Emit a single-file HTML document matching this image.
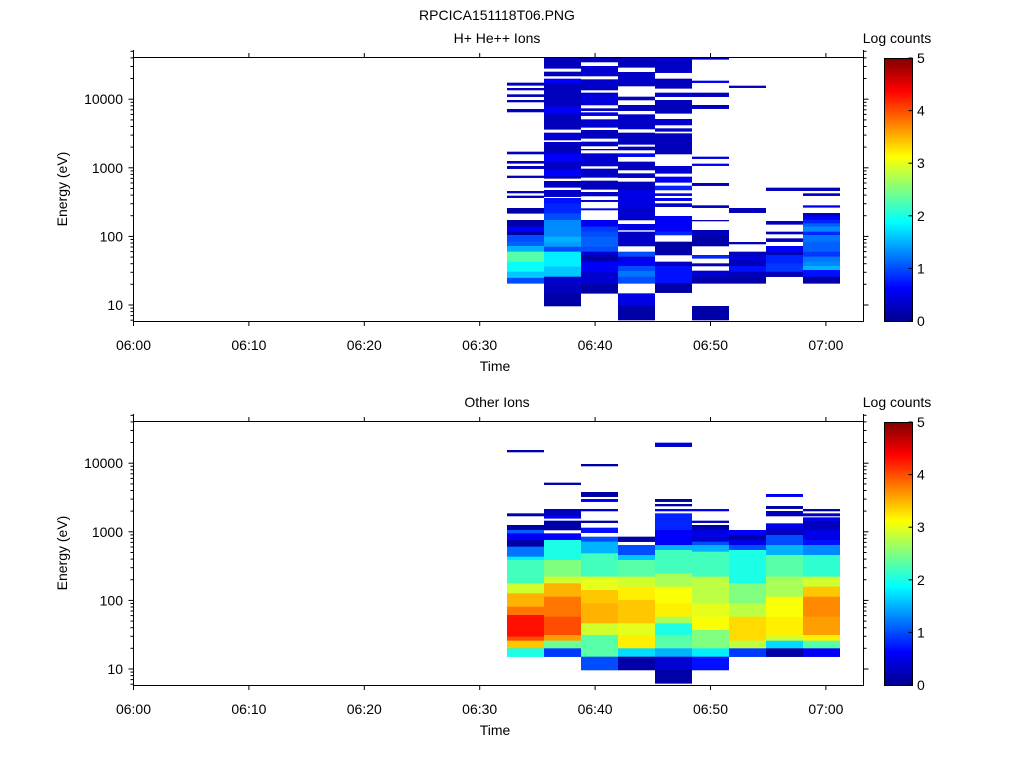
<!DOCTYPE html>
<html><head><meta charset="utf-8"><style>
body{margin:0;background:#fff;}
svg text{font-family:"Liberation Sans",sans-serif;font-size:14px;fill:#000;}
</style></head><body>
<svg id="s" width="1024" height="768" xmlns="http://www.w3.org/2000/svg">
<defs><linearGradient id="cb" x1="0" y1="1" x2="0" y2="0">
<stop offset="0" stop-color="#00008f"/><stop offset="0.125" stop-color="#0000ff"/><stop offset="0.375" stop-color="#00ffff"/><stop offset="0.625" stop-color="#ffff00"/><stop offset="0.875" stop-color="#ff0000"/><stop offset="1" stop-color="#800000"/></linearGradient></defs>
<g id="data"></g>
<text x="497" y="20" text-anchor="middle">RPCICA151118T06.PNG</text>
<text x="497" y="43" text-anchor="middle">H+ He++ Ions</text>
<text x="497" y="407" text-anchor="middle">Other Ions</text>
<text x="897" y="43" text-anchor="middle">Log counts</text>
<text x="897" y="407" text-anchor="middle">Log counts</text>
<g id="axes" stroke="#000" stroke-width="1" fill="none"></g>
<g id="lbl"></g>
</svg>
<script>
(function(){
function jet(v){var t=Math.max(0,Math.min(1,v/5));function c(x){return Math.round(255*Math.max(0,Math.min(1,x)));}
return 'rgb('+c(1.5-Math.abs(4*t-3))+','+c(1.5-Math.abs(4*t-2))+','+c(1.5-Math.abs(4*t-1))+')';}
var NS="http://www.w3.org/2000/svg";
function el(p,n,a,txt){var e=document.createElementNS(NS,n);for(var k in a)e.setAttribute(k,a[k]);if(txt!==undefined)e.textContent=txt;p.appendChild(e);return e;}
var D=document.getElementById('data'),A=document.getElementById('axes'),L=document.getElementById('lbl');
var colx=[507,544,581,618,655,692,729,766,803,840];
var topD=[
[[98,106,.3],[114,120,.3],[133,140,.3],[150,156,.3],[177,186,.3],[305,312,.3],[333,340,.3],[348,356,.3],[377,383,.3],[423,429,.3],[437,443,.3],[474,490,.2],[510,530,.2],[530,545,.6],[545,555,.2],[555,575,1],[575,588,1.1],[588,605,1.5],[605,635,2.3],[635,665,1.9],[665,680,1.6],[682,700,1]],
[[22,55,.3],[65,78,.3],[86,100,.6],[100,170,.3],[170,190,.6],[190,238,.3],[248,270,.4],[276,312,.3],[312,335,.6],[335,360,.35],[360,378,.6],[378,385,.3],[393,412,.3],[420,440,.35],[444,460,.7],[460,490,.8],[490,510,1],[510,560,1.3],[560,575,1.5],[575,590,1.4],[590,605,1],[605,650,1.8],[650,680,1.6],[680,700,.4],[700,730,.3],[730,768,.2]],
[[22,36,.3],[48,78,.4],[88,120,.35],[128,165,.45],[175,182,.3],[187,197,.5],[208,232,.4],[240,265,.3],[275,288,.35],[297,300,.3],[310,348,.4],[356,382,.35],[392,418,.3],[426,438,.35],[450,455,.4],[475,480,.5],[510,530,.6],[530,545,.9],[545,560,1],[560,590,1.1],[590,605,1],[605,615,.4],[615,635,.2],[635,665,.6],[665,700,.4],[700,730,.2]],
[[22,52,.3],[66,108,.35],[140,150,.3],[165,182,.3],[193,237,.35],[248,283,.3],[290,300,.3],[310,320,.6],[335,360,.3],[370,383,.35],[395,420,.3],[420,470,.5],[470,510,.4],[522,540,.5],[545,588,.35],[605,620,1],[620,636,.5],[636,648,.6],[648,663,1],[663,680,1.2],[680,700,1],[730,768,.5],[768,810,.2]],
[[22,68,.35],[86,115,.3],[128,140,.4],[150,190,.3],[207,225,.4],[235,244,.35],[250,312,.3],[348,370,.4],[380,397,.6],[407,420,.8],[430,437,.5],[444,452,.5],[460,470,.35],[498,520,.6],[520,545,.6],[545,555,.8],[575,615,.2],[635,648,.3],[648,700,.7],[700,728,.2]],
[[22,28,.3],[92,98,.6],[128,140,.3],[165,176,.3],[320,326,.5],[341,347,.6],[399,407,.3],[466,473,.3],[510,513,.3],[540,555,.3],[555,588,.2],[615,625,.8],[640,648,.3],[662,680,.4],[680,700,.2],[768,810,.2]],
[[107,113,.3],[474,488,.3],[576,582,.3],[605,620,.3],[620,628,.5],[628,648,.3],[648,665,.7],[665,680,.3],[680,700,.2]],
[[413,422,.3],[513,523,.3],[545,552,.3],[565,575,.3],[588,605,.6],[605,615,.3],[615,640,.8],[640,665,.9],[665,680,.3]],
[[413,422,.3],[430,437,.3],[466,472,.6],[489,498,.3],[498,510,.6],[510,520,.8],[520,530,1.1],[530,545,1.3],[545,555,.8],[555,575,1.2],[575,605,1.1],[605,620,.9],[620,635,1.2],[635,648,1.3],[648,660,1.5],[660,680,.7],[680,700,.2]]];
var botD=[
[[60,66,.2],[250,258,.2],[285,300,.2],[300,310,1.1],[310,330,.6],[330,350,.2],[350,380,1.2],[380,390,1.8],[390,460,2.2],[460,490,2.9],[490,530,3.5],[530,555,3.8],[555,620,4.3],[620,632,4],[632,655,3.4],[655,680,2]],
[[158,164,.2],[237,258,.3],[258,265,.6],[272,285,.2],[285,300,.2],[310,330,.6],[330,390,2],[390,440,2.5],[440,460,2.9],[460,500,3.5],[500,560,3.8],[560,615,4],[615,632,3.6],[632,655,2.4],[655,680,.9]],
[[102,108,.2],[186,200,.2],[207,215,.6],[237,243,.4],[272,278,.2],[293,308,.7],[320,335,1],[335,370,1.5],[370,440,2.2],[440,480,3],[480,520,3.4],[520,580,3.5],[580,615,2.9],[615,655,2.3],[655,680,2.3],[680,720,1]],
[[320,335,.2],[345,375,1],[375,390,1.6],[390,440,2.3],[440,470,2.9],[470,510,3.2],[510,580,3.4],[580,615,3],[615,655,3.2],[655,680,1.7],[680,720,.2]],
[[38,50,.4],[207,215,.2],[222,228,.2],[237,243,.6],[250,300,.8],[300,345,.6],[345,360,1.5],[360,430,2.2],[430,470,2.7],[470,520,3.1],[520,560,3.2],[560,580,2.7],[580,615,2],[615,655,2.3],[655,680,1.5],[680,720,.4],[720,760,.2]],
[[237,243,.6],[272,278,.3],[285,300,.2],[300,320,.5],[320,335,.4],[335,345,1],[345,365,1.5],[365,440,2.2],[440,520,2.8],[520,560,3],[560,600,3.1],[600,655,2.5],[655,680,1.8],[680,720,.7]],
[[300,315,.6],[315,330,.2],[330,345,.5],[345,360,1],[360,460,2],[460,520,2.5],[520,560,2.8],[560,615,3.3],[615,632,3.3],[632,655,2.8],[655,680,.9]],
[[192,200,.6],[228,236,.2],[243,258,.3],[280,300,.5],[300,315,.3],[315,345,1],[345,375,1.5],[375,440,2.3],[440,500,2.7],[500,560,3.1],[560,615,3.2],[615,632,2.9],[632,655,1.7],[655,680,.2]],
[[237,243,.2],[250,258,.3],[262,272,.6],[272,300,.3],[300,330,.5],[330,345,.7],[345,375,1.3],[375,440,2.1],[440,470,2.9],[470,500,3.4],[500,560,3.7],[560,615,3.6],[615,632,3.2],[632,655,2.3],[655,680,.6]]];
function draw(data,y0){data.forEach(function(col,i){col.forEach(function(b){
el(D,'rect',{x:colx[i],y:(y0+b[0]/3).toFixed(2),width:colx[i+1]-colx[i],height:((b[1]-b[0])/3+0.3).toFixed(2),fill:jet(b[2])});});});}
draw(topD,50);draw(botD,430);
function panel(off){
var t=57+off,b=321+off;
el(A,'rect',{x:133.5,y:t+.5,width:730,height:264});
el(A,'line',{x1:133.5,y1:50+off,x2:133.5,y2:t});
el(A,'line',{x1:863.5,y1:50+off,x2:863.5,y2:t});
var y10=305+off;
for(var d=0;d<5;d++)for(var m=1;m<10;m++){var E=10*Math.pow(10,d)*m;
var yy=y10-68.6*Math.log10(E/10);if(yy<50+off||yy>b)continue;var len=m==1?5:3;
el(A,'line',{x1:133.5-len,y1:yy.toFixed(1),x2:133.5,y2:yy.toFixed(1)});
el(A,'line',{x1:863.5,y1:yy.toFixed(1),x2:863.5+len,y2:yy.toFixed(1)});}
for(var m=6;m<10;m++){var yy=y10-68.6*Math.log10(m/10);if(yy<=b)el(A,'line',{x1:130.5,y1:yy.toFixed(1),x2:133.5,y2:yy.toFixed(1)});}
['10','100','1000','10000'].forEach(function(s,i){el(L,'text',{x:123,y:y10-68.6*i+5,'text-anchor':'end'},s);});
var labs=['06:00','06:10','06:20','06:30','06:40','06:50','07:00'];
labs.forEach(function(s,i){var x=133.5+115.4*i;el(A,'line',{x1:x,y1:b,x2:x,y2:b+5});el(A,'line',{x1:x,y1:t,x2:x,y2:t-4});
el(L,'text',{x:x,y:b+29,'text-anchor':'middle'},s);});
el(L,'text',{x:495,y:b+50,'text-anchor':'middle'},'Time');
el(L,'text',{x:67,y:189+off,'text-anchor':'middle',transform:'rotate(-90 67 '+(189+off)+')'},'Energy (eV)');
el(D,'rect',{x:884,y:58+off,width:29,height:263,fill:'url(#cb)'});
el(A,'rect',{x:884.5,y:58.5+off,width:28,height:263});
for(var k=0;k<=5;k++){var yy=321+off-52.6*k;el(A,'line',{x1:908.5,y1:yy,x2:912.5,y2:yy});
el(L,'text',{x:917,y:yy+5},String(k));}
}
panel(0);panel(364);
})();
</script>
</body></html>
